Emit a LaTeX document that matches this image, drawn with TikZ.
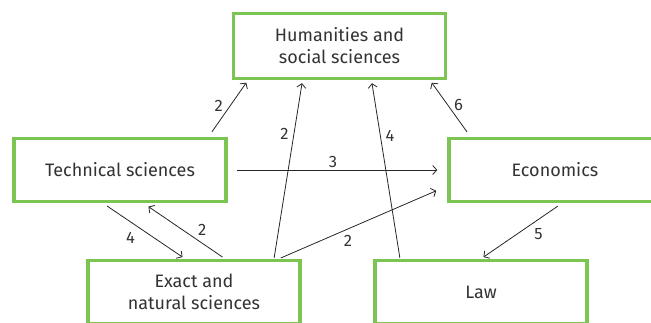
\documentclass[tikz,border=0pt]{standalone}
\usepackage{fontspec}
\setmainfont{Fira Sans}
\usepackage{tikz}
\usetikzlibrary{arrows.meta, positioning}
\definecolor{boxgreen}{HTML}{7DC553}
\definecolor{inkgray}{HTML}{333333}

\begin{document}
\begin{tikzpicture}[x=1pt, y=-1pt,
    field/.style={rectangle, draw=boxgreen, line width=3.5pt, fill=white,
      minimum width=212pt, minimum height=63pt, align=center, text=inkgray,
      font=\fontsize{18}{22}\selectfont},
    num/.style={font=\fontsize{16.5}{18}\selectfont, text=inkgray, inner sep=1pt},
    arr/.style={-{Straight Barb[length=4pt, width=9pt]}, line width=0.8pt, color=black!85}
  ]
    \useasboundingbox (0,0) rectangle (651,322);
    \clip (0,0) rectangle (651,322);

    % ── Fields
    \node[field, minimum height=65pt] (hum) at (339.5,46) {Humanities and\\social sciences};
    \node[field] (tech) at (120,170) {Technical sciences};
    \node[field] (econ) at (555,170) {Economics};
    \node[field] (exact) at (194,292) {Exact and\\natural sciences};
    \node[field] (law) at (481,292) {Law};

    % ── Flows into Humanities
    \draw[arr, shorten <=6pt, shorten >=3pt] ([xshift=88.5pt]tech.north) -- ([xshift=-91.5pt]hum.south)
      node[num, pos=0.55, left=6pt] (n1) {2};
    \draw[arr, shorten <=1pt, shorten >=3pt] ([xshift=80pt]exact.north) -- ([xshift=-37pt]hum.south)
      node[num, pos=0.70, left=4pt] (n2) {2};
    \draw[arr, shorten <=1pt, shorten >=3pt] ([xshift=-81pt]law.north) -- ([xshift=32pt]hum.south)
      node[num, pos=0.69, right=4pt] (n3) {4};
    \draw[arr, shorten <=6pt, shorten >=3pt] ([xshift=-84.5pt]econ.north) -- ([xshift=90.5pt]hum.south)
      node[num, pos=0.56, right=5pt] (n4) {6};

    % ── Flows into Economics
    \draw[arr, shorten <=9pt, shorten >=10pt] (tech.east) -- (econ.west)
      node[num, pos=0.48, above=1pt] (n5) {3};
    \draw[arr, shorten <=2pt, shorten >=12pt] ([xshift=85pt]exact.north) -- ([yshift=-16pt]econ.west)
      node[num, pos=0.41, below=5pt] (n6) {2};

    % ── Technical <-> Exact, Economics -> Law
    \draw[arr, shorten <=5pt, shorten >=3pt] ([xshift=-17pt]tech.south) -- ([xshift=-9pt]exact.north)
      node[num, pos=0.43, below left=4pt and 2pt] (n7) {4};
    \draw[arr, shorten <=3pt, shorten >=6pt] ([xshift=31pt]exact.north) -- ([xshift=23.5pt]tech.south)
      node[num, pos=0.36, above right=2pt and 1pt] (n8) {2};
    \draw[arr, shorten <=5pt, shorten >=3pt] ([xshift=7pt]econ.south) -- (law.north)
      node[num, pos=0.37, below right=3pt and 1pt] (n9) {5};
  \end{tikzpicture}
\end{document}
